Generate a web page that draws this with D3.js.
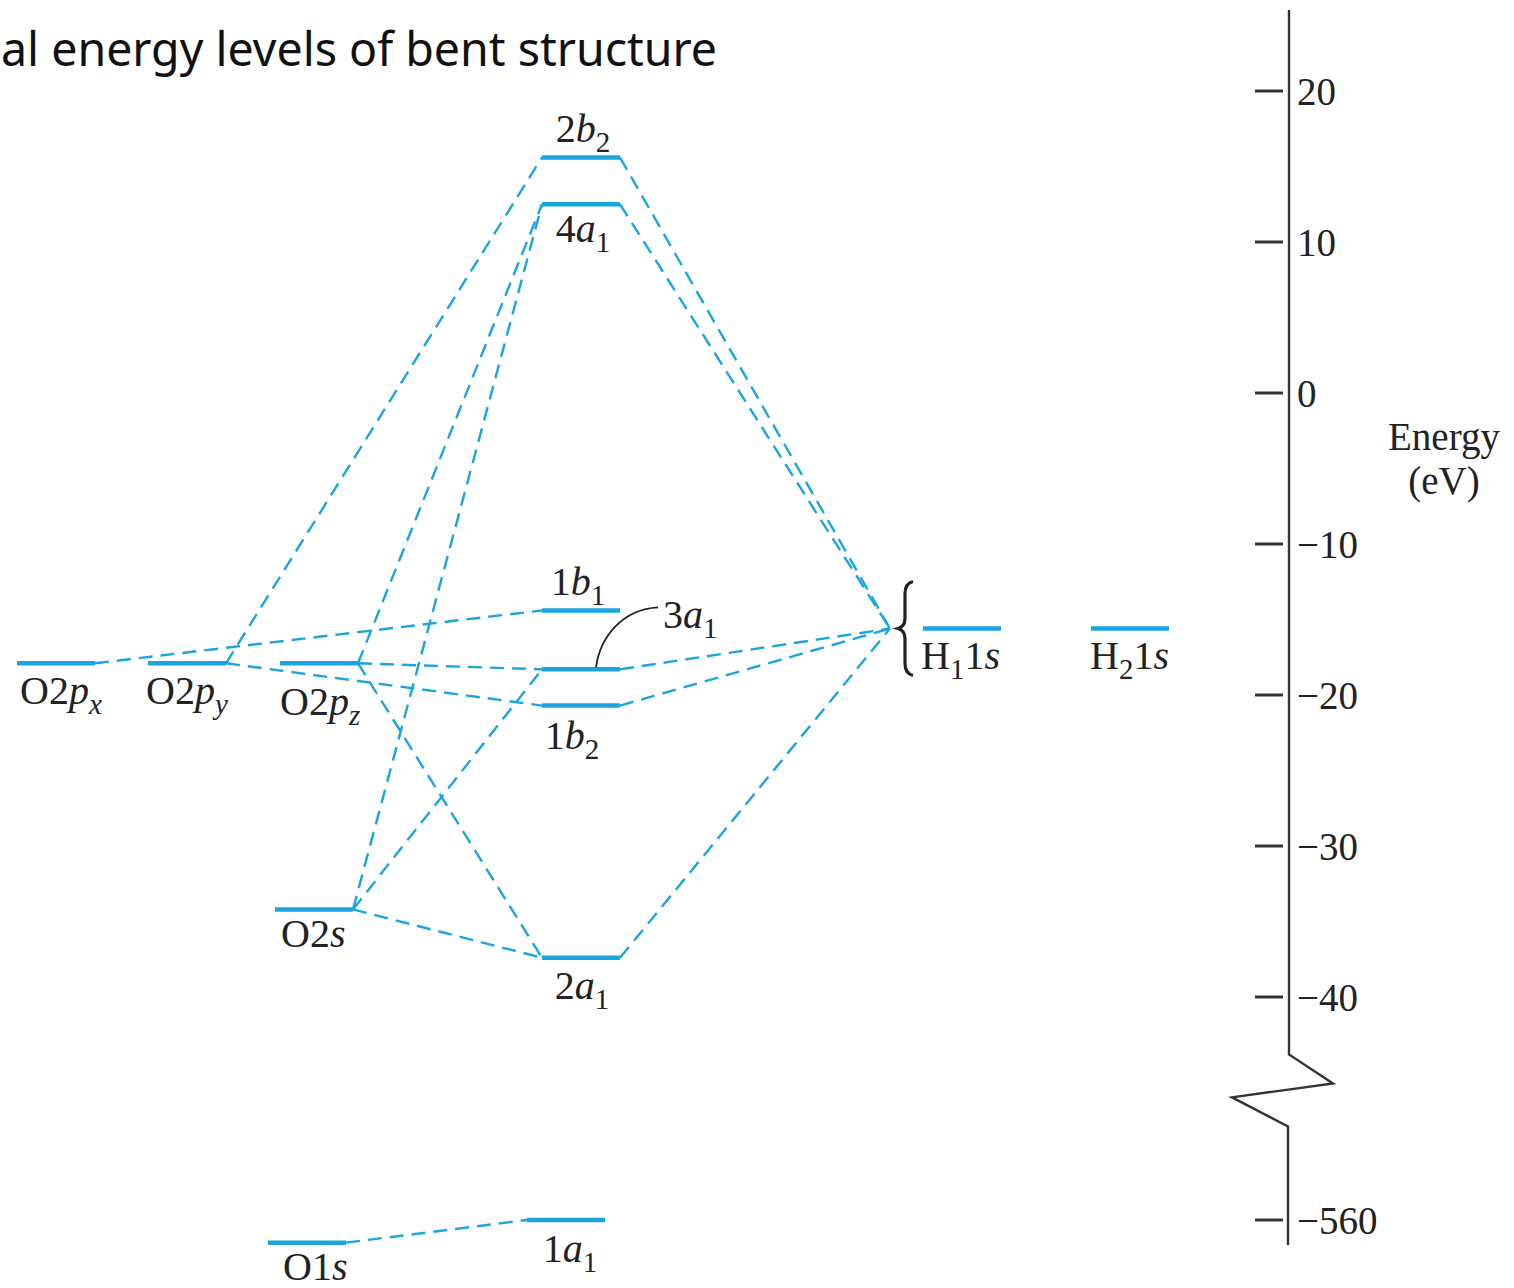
<!DOCTYPE html>
<html>
<head>
<meta charset="utf-8">
<script src="https://cdn.jsdelivr.net/npm/d3@7/dist/d3.min.js"></script>
<style>
  html, body { margin: 0; padding: 0; background: #ffffff; }
  svg { display: block; }
  .serif { font-family: "Liberation Serif", "Times New Roman", Tinos, serif; }
</style>
</head>
<body>
<script>
// ---------------- DATA ----------------
const titleText = "al energy levels of bent structure";

// atomic orbitals (left: oxygen, right: hydrogen)
const aoNames    = ["O2p_x", "O2p_y", "O2p_z", "O2s", "O1s", "H_11s", "H_21s"];
const aoColumns  = ["px", "py", "pz", "Os", "Oc", "H1", "H2"];
const aoEnergies = [-17.9, -17.9, -17.9, -34.2, -561.5, -15.6, -15.6];

// molecular orbitals
const moNames    = ["2b_2", "4a_1", "1b_1", "3a_1", "1b_2", "2a_1", "1a_1"];
const moColumns  = ["MO", "MO", "MO", "MO", "MO", "MO", "MOc"];
const moEnergies = [15.6, 12.5, -14.4, -18.3, -20.7, -37.4, -560];

// correlation lines oxygen AO -> MO
const oLinks = [
  ["O2p_x", "1b_1"], ["O2p_y", "2b_2"], ["O2p_y", "1b_2"],
  ["O2p_z", "4a_1"], ["O2p_z", "3a_1"], ["O2p_z", "2a_1"],
  ["O2s", "4a_1"], ["O2s", "3a_1"], ["O2s", "2a_1"],
  ["O1s", "1a_1"]
];
// MOs that correlate with the hydrogen group orbitals
const hLinks = ["2b_2", "4a_1", "3a_1", "1b_2", "2a_1"];

// energy axis
const tickValues = [20, 10, 0, -10, -20, -30, -40, -560];
const tickLabels = ["20", "10", "0", "\u221210", "\u221220", "\u221230", "\u221240", "\u2212560"];
const axisTitle  = ["Energy", "(eV)"];

// ---------------- LAYOUT ----------------
const W = 1514, H = 1288;
const blue = "#1ba5de";
const ink = "#222";

const svg = d3.select("body").append("svg").attr("width", W).attr("height", H);

const yMain = d3.scaleLinear().domain([20, -40]).range([91, 997]);
const yCore = d3.scaleLinear().domain([-560, -570]).range([1220, 1371]);
const yE = e => (e < -100 ? yCore(e) : yMain(e));

const xCol = d3.scaleOrdinal()
  .domain(["px", "py", "pz", "Os", "Oc", "MO", "MOc", "H1", "H2"])
  .range([56, 187, 319, 314, 307, 581, 566, 962, 1130]);
const halfW = 39;

const levels = {};
aoNames.forEach((n, i) => levels[n] = { name: n, cx: xCol(aoColumns[i]), y: yE(aoEnergies[i]) });
moNames.forEach((n, i) => levels[n] = { name: n, cx: xCol(moColumns[i]), y: yE(moEnergies[i]) });

// label placement (layout only)
const labelPos = {
  "O2p_x": { ax: "left", dx: 3, dy: 41, anchor: "start" },
  "O2p_y": { ax: "left", dx: -2, dy: 41, anchor: "start" },
  "O2p_z": { ax: "left", dx: 0, dy: 52, anchor: "start" },
  "O2s":   { ax: "left", dx: 6, dy: 38, anchor: "start" },
  "O1s":   { ax: "left", dx: 15, dy: 37, anchor: "start" },
  "H_11s": { ax: "left", dx: -2, dy: 40, anchor: "start" },
  "H_21s": { ax: "left", dx: -1, dy: 40, anchor: "start" },
  "2b_2":  { ax: "mid", dx: 2, dy: -15, anchor: "middle" },
  "4a_1":  { ax: "mid", dx: 2, dy: 38, anchor: "middle" },
  "1b_1":  { ax: "mid", dx: -3, dy: -15, anchor: "middle" },
  "3a_1":  { ax: "right", dx: 43, dy: -41, anchor: "start" },
  "1b_2":  { ax: "mid", dx: -9, dy: 43, anchor: "middle" },
  "2a_1":  { ax: "mid", dx: 1, dy: 41, anchor: "middle" },
  "1a_1":  { ax: "mid", dx: 4, dy: 42, anchor: "middle" }
};

// ---------------- TITLE ----------------
svg.append("text")
  .attr("x", 1).attr("y", 66)
  .style("font-family", "'Noto Sans', 'Open Sans', sans-serif")
  .attr("font-size", 46.5)
  .attr("fill", "#111")
  .text(titleText);

// ---------------- DASHED CORRELATION LINES ----------------
const gLinks = svg.append("g")
  .attr("fill", "none").attr("stroke", blue)
  .attr("stroke-width", 2.4).attr("stroke-dasharray", "14,8");

gLinks.selectAll("line.o").data(oLinks).join("line")
  .attr("class", "o")
  .attr("x1", d => levels[d[0]].cx + halfW).attr("y1", d => levels[d[0]].y)
  .attr("x2", d => levels[d[1]].cx - halfW).attr("y2", d => levels[d[1]].y);

const hPoint = { x: xCol("H1") - 72, y: levels["H_11s"].y };
gLinks.selectAll("line.h").data(hLinks).join("line")
  .attr("class", "h")
  .attr("x1", d => levels[d].cx + halfW).attr("y1", d => levels[d].y)
  .attr("x2", hPoint.x).attr("y2", hPoint.y);

// ---------------- LEVEL BARS ----------------
svg.append("g").selectAll("line").data(Object.values(levels)).join("line")
  .attr("x1", d => d.cx - halfW).attr("x2", d => d.cx + halfW)
  .attr("y1", d => d.y).attr("y2", d => d.y)
  .attr("stroke", blue).attr("stroke-width", 4.5);

// ---------------- LABELS ----------------
function richLabel(sel, str) {
  let sub = false, shifted = false;
  for (const ch of str) {
    if (ch === "_") { sub = true; continue; }
    const t = sel.append("tspan").text(ch);
    if (/[a-z]/.test(ch)) t.attr("font-style", "italic");
    if (sub) {
      t.attr("font-size", 29).attr("dy", 10);
      shifted = true; sub = false;
    } else if (shifted) {
      t.attr("dy", -10); shifted = false;
    }
  }
}

const gLab = svg.append("g").attr("class", "serif")
  .attr("font-size", 40).attr("fill", ink);

Object.values(levels).forEach(d => {
  const p = labelPos[d.name];
  const bx = p.ax === "left" ? d.cx - halfW : p.ax === "right" ? d.cx + halfW : d.cx;
  const t = gLab.append("text")
    .attr("x", bx + p.dx).attr("y", d.y + p.dy)
    .attr("text-anchor", p.anchor);
  richLabel(t, d.name);
});

// leader for 3a1
{
  const d = levels["3a_1"];
  const x0 = d.cx + 15, y0 = d.y - 2;
  const x1 = d.cx + halfW + 38, y1 = d.y - 62;
  const pth = d3.path();
  pth.moveTo(x0, y0);
  pth.bezierCurveTo(x0 + 4, y0 - 30, x0 + 26, y1 + 2, x1, y1);
  svg.append("path").attr("d", pth.toString())
    .attr("fill", "none").attr("stroke", ink).attr("stroke-width", 1.8);
}

// brace grouping the hydrogen orbitals
{
  const bx = hPoint.x + 15, cy = hPoint.y, h = 47;
  const pth = d3.path();
  pth.moveTo(bx + 8, cy - h);
  pth.quadraticCurveTo(bx, cy - h + 2, bx, cy - h + 12);
  pth.lineTo(bx, cy - 10);
  pth.quadraticCurveTo(bx, cy - 2, bx - 7, cy);
  pth.quadraticCurveTo(bx, cy + 2, bx, cy + 10);
  pth.lineTo(bx, cy + h - 12);
  pth.quadraticCurveTo(bx, cy + h - 2, bx + 8, cy + h);
  svg.append("path").attr("d", pth.toString())
    .attr("fill", "none").attr("stroke", ink).attr("stroke-width", 3.2);
}

// ---------------- ENERGY AXIS ----------------
const axX = 1289;
const gAx = svg.append("g").attr("stroke", "#333").attr("fill", "none");
const breakTop = yMain(-43.8);
const axPath = d3.line()([
  [axX, 10], [axX, breakTop],
  [axX + 44, breakTop + 29], [axX - 57, breakTop + 43],
  [axX - 1, breakTop + 72], [axX - 1, 1245]
]);
gAx.append("path").attr("d", axPath).attr("stroke-width", 2.4);

gAx.selectAll("line.tick").data(tickValues).join("line")
  .attr("class", "tick")
  .attr("x1", axX - 34).attr("x2", axX - 6)
  .attr("y1", d => yE(d)).attr("y2", d => yE(d))
  .attr("stroke-width", 3);

svg.append("g").attr("class", "serif").attr("font-size", 39).attr("fill", ink)
  .selectAll("text").data(tickValues).join("text")
  .attr("x", axX + 8).attr("y", d => yE(d) + 14)
  .text((d, i) => tickLabels[i]);

svg.append("g").attr("class", "serif").attr("font-size", 39).attr("fill", ink)
  .attr("text-anchor", "middle")
  .selectAll("text").data(axisTitle).join("text")
  .attr("x", 1444).attr("y", (d, i) => 450 + i * 44)
  .text(d => d);
</script>
</body>
</html>
